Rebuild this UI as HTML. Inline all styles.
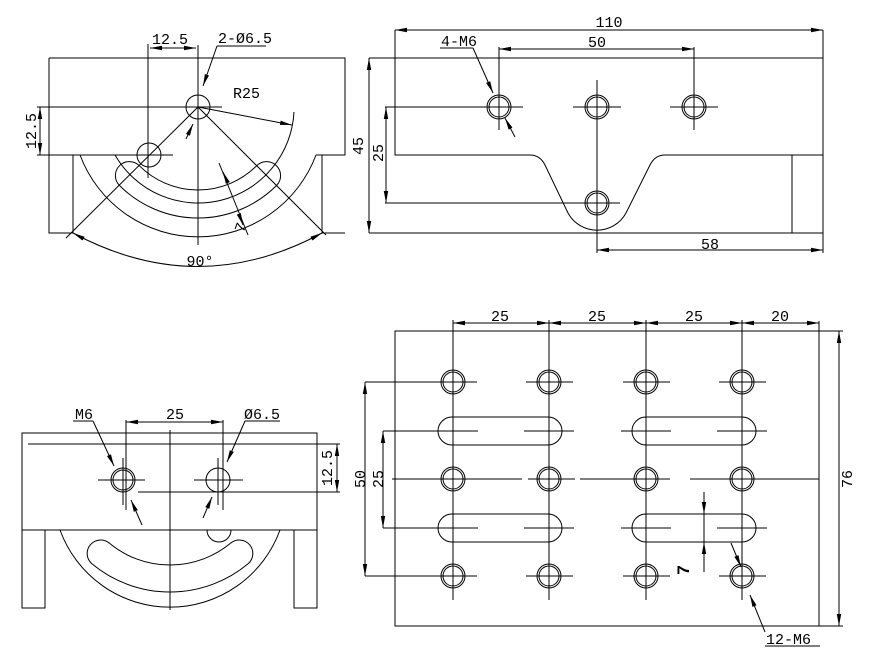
<!DOCTYPE html>
<html><head><meta charset="utf-8"><style>
html,body{margin:0;padding:0;background:#fff}
svg{display:block}
text{font-family:"Liberation Mono",monospace;font-size:15px;fill:#000}
</style></head><body>
<svg width="876" height="666" viewBox="0 0 876 666" xmlns="http://www.w3.org/2000/svg">
<defs>
<marker id="a" viewBox="0 0 12 6" refX="12" refY="3" markerWidth="12" markerHeight="6" markerUnits="userSpaceOnUse" orient="auto-start-reverse"><path d="M0,0.8 L12,3 L0,5.2z" fill="#000"/></marker>
</defs>
<g fill="none" stroke="#000" stroke-width="1">
<path d="M49,58 H345 V155 H322 V233 H345"/>
<path d="M49,58 V233 H73 V155 H49"/>
<path d="M322,155 H316"/>
<path d="M80,155 A126 126 0 0 0 316,155"/>
<path d="M115,155 A96 96 0 0 0 294,112"/>
<path d="M139.3,165.7 A83 83 0 0 0 256.7,165.7 A14 14 0 0 1 276.5,185.5 A111 111 0 0 1 119.5,185.5 A14 14 0 0 1 139.3,165.7Z"/>
<circle cx="198" cy="107" r="12"/>
<circle cx="149" cy="155" r="12"/>
<path d="M198,45 V245 M37,107 H222 M37,155 H173 M148,44 V178"/>
<path d="M66,238 L198,107 L326,235"/>
<path d="M40,107 V155" marker-start="url(#a)" marker-end="url(#a)"/>
<path d="M150,48 H196" marker-start="url(#a)" marker-end="url(#a)"/>
<path d="M217,46 H266"/>
<path d="M217,46 L203,86" marker-end="url(#a)"/>
<path d="M186,139 L193,124" marker-end="url(#a)"/>
<path d="M198,107 L292,125" marker-end="url(#a)"/>
<path d="M219,163 L248,235"/>
<path d="M223,172 L227,181" marker-start="url(#a)"/>
<path d="M240,217 L243,225" marker-end="url(#a)"/>
<path d="M73,233 Q198,300 322,233" marker-start="url(#a)" marker-end="url(#a)"/>

<path d="M369,58 H823 V233 H369"/>
<path d="M395,30 V155 H530 Q540,155 545,165 L568,213 A33 33 0 0 0 626,213 L650,165 Q655,155 665,155 H823"/>
<path d="M792,155 V233"/>
<path d="M395,30 H823" marker-start="url(#a)" marker-end="url(#a)"/>
<path d="M823,30 V58"/>
<path d="M499,49 H694" marker-start="url(#a)" marker-end="url(#a)"/>
<path d="M499,47 V130 M694,47 V130"/>
<path d="M369,58 V233" marker-start="url(#a)" marker-end="url(#a)"/>
<path d="M386,107 V203" marker-start="url(#a)" marker-end="url(#a)"/>
<path d="M385,107 H523 M385,203 H620"/>
<path d="M597,250 H823" marker-start="url(#a)" marker-end="url(#a)"/>
<path d="M597,233 V253 M823,233 V253"/>
<path d="M440,48 H473"/>
<path d="M473,48 L493,93" marker-end="url(#a)"/>
<path d="M515,137 L505,118" marker-end="url(#a)"/>
<g>
<circle cx="499" cy="107" r="10"/><circle cx="499" cy="107" r="12"/>
<circle cx="597" cy="107" r="10"/><circle cx="597" cy="107" r="12"/>
<circle cx="694" cy="107" r="10"/><circle cx="694" cy="107" r="12"/>
<circle cx="597" cy="203" r="10"/><circle cx="597" cy="203" r="12"/>
<path d="M476,107 H523 M573,107 H621 M670,107 H718 M597,80 V240 M694,95 V130"/>
</g>

<path d="M22,433 H317 V530 H22Z"/>
<path d="M28,444 H317"/>
<path d="M22,530 V608 H45 V530 M294,530 V608 H317 V530"/>
<path d="M60,530 A117 117 0 0 0 280,530"/>
<path d="M207,530 A12 12 0 0 0 231,530"/>
<path d="M108.9,542.8 A95 95 0 0 0 231.1,542.8 A13.5 13.5 0 0 1 248.4,563.5 A122 122 0 0 1 91.6,563.5 A13.5 13.5 0 0 1 108.9,542.8Z"/>
<path d="M170,430 V610"/>
<circle cx="123" cy="480" r="10"/><circle cx="123" cy="480" r="12"/>
<circle cx="218" cy="480" r="12"/>
<path d="M98,480 H145 M123,458 V505 M194,480 H243 M218,458 V505"/>
<path d="M138,492 H340 M317,444 H340"/>
<path d="M337,444 V492" marker-start="url(#a)" marker-end="url(#a)"/>
<path d="M126,422 H223" marker-start="url(#a)" marker-end="url(#a)"/>
<path d="M126,420 V510 M223,420 V510"/>
<path d="M73,421 H93"/>
<path d="M93,421 L114,466" marker-end="url(#a)"/>
<path d="M142,525 L131,500" marker-end="url(#a)"/>
<path d="M245,421 H280"/>
<path d="M245,421 L227,462" marker-end="url(#a)"/>
<path d="M203,518 L212,497" marker-end="url(#a)"/>

<path d="M395,331 H819 V626 H395Z"/>
<path d="M453,320 V600 M549,320 V600 M646,320 V600 M742,320 V600"/>
<path d="M453,323 H549" marker-start="url(#a)" marker-end="url(#a)"/>
<path d="M549,323 H646" marker-start="url(#a)" marker-end="url(#a)"/>
<path d="M646,323 H742" marker-start="url(#a)" marker-end="url(#a)"/>
<path d="M742,323 H819" marker-start="url(#a)" marker-end="url(#a)"/>
<path d="M819,321 V331"/>
<path d="M819,331 H843 M819,626 H843"/>
<path d="M839,331 V626" marker-start="url(#a)" marker-end="url(#a)"/>
<path d="M365,382 H430 M365,576 H430 M383,431 H430 M383,528 H430"/>
<path d="M365,382 V576" marker-start="url(#a)" marker-end="url(#a)"/>
<path d="M383,431 V528" marker-start="url(#a)" marker-end="url(#a)"/>
<path d="M392,479 H522 M528,479 H575 M580,479 H670 M690,479 H819"/>
<g>
<path d="M452,417 H548 A14 14 0 0 1 548,445 H452 A14 14 0 0 1 452,417Z"/>
<path d="M646,417 H742 A14 14 0 0 1 742,445 H646 A14 14 0 0 1 646,417Z"/>
<path d="M452,514 H548 A14 14 0 0 1 548,542 H452 A14 14 0 0 1 452,514Z"/>
<path d="M646,514 H742 A14 14 0 0 1 742,542 H646 A14 14 0 0 1 646,514Z"/>
<path d="M428,431 H478 M524,431 H574 M621,431 H671 M717,431 H767 M428,528 H478 M524,528 H574 M621,528 H671 M717,528 H767"/>
</g>
<g>
<circle cx="453" cy="382" r="10"/><circle cx="453" cy="382" r="12"/>
<circle cx="549" cy="382" r="10"/><circle cx="549" cy="382" r="12"/>
<circle cx="646" cy="382" r="10"/><circle cx="646" cy="382" r="12"/>
<circle cx="742" cy="382" r="10"/><circle cx="742" cy="382" r="12"/>
<circle cx="453" cy="479" r="10"/><circle cx="453" cy="479" r="12"/>
<circle cx="549" cy="479" r="10"/><circle cx="549" cy="479" r="12"/>
<circle cx="646" cy="479" r="10"/><circle cx="646" cy="479" r="12"/>
<circle cx="742" cy="479" r="10"/><circle cx="742" cy="479" r="12"/>
<circle cx="453" cy="576" r="10"/><circle cx="453" cy="576" r="12"/>
<circle cx="549" cy="576" r="10"/><circle cx="549" cy="576" r="12"/>
<circle cx="646" cy="576" r="10"/><circle cx="646" cy="576" r="12"/>
<circle cx="742" cy="576" r="10"/><circle cx="742" cy="576" r="12"/>
<path d="M430,382 H477 M526,382 H573 M623,382 H670 M719,382 H766 M430,576 H477 M526,576 H573 M623,576 H670 M719,576 H766"/>
</g>
<path d="M704,492 V514" marker-end="url(#a)"/>
<path d="M704,572 V542" marker-end="url(#a)"/>
<path d="M704,514 V542"/>
<path d="M731,543 L741,567" marker-end="url(#a)"/>
<path d="M765,632 L750,595" marker-end="url(#a)"/>
<path d="M765,646 H820"/>
</g>

<g>
<text x="152" y="44">12.5</text>
<text x="218" y="43">2-Ø6.5</text>
<text x="233" y="98">R25</text>
<text x="36" y="131" transform="rotate(-90 36 131)" text-anchor="middle">12.5</text>
<text x="245" y="229" transform="rotate(-70 245 229)" text-anchor="middle">7</text>
<text x="200" y="266" text-anchor="middle">90°</text>

<text x="609" y="27" text-anchor="middle">110</text>
<text x="597" y="47" text-anchor="middle">50</text>
<text x="441" y="46">4-M6</text>
<text x="363" y="146" transform="rotate(-90 363 146)" text-anchor="middle">45</text>
<text x="383" y="153" transform="rotate(-90 383 153)" text-anchor="middle">25</text>
<text x="710" y="249" text-anchor="middle">58</text>

<text x="75" y="419">M6</text>
<text x="175" y="419" text-anchor="middle">25</text>
<text x="244" y="419">Ø6.5</text>
<text x="332" y="468" transform="rotate(-90 332 468)" text-anchor="middle">12.5</text>

<text x="500" y="321" text-anchor="middle">25</text>
<text x="597" y="321" text-anchor="middle">25</text>
<text x="694" y="321" text-anchor="middle">25</text>
<text x="780" y="321" text-anchor="middle">20</text>
<text x="365" y="479" transform="rotate(-90 365 479)" text-anchor="middle">50</text>
<text x="383" y="479" transform="rotate(-90 383 479)" text-anchor="middle">25</text>
<text x="852" y="479" transform="rotate(-90 852 479)" text-anchor="middle">76</text>
<text x="689" y="570" transform="rotate(-90 689 570)" text-anchor="middle" style="font-family:'Liberation Sans',sans-serif;font-weight:bold;font-size:17px">7</text>
<text x="766" y="644">12-M6</text>
</g>
</svg>
</body></html>
